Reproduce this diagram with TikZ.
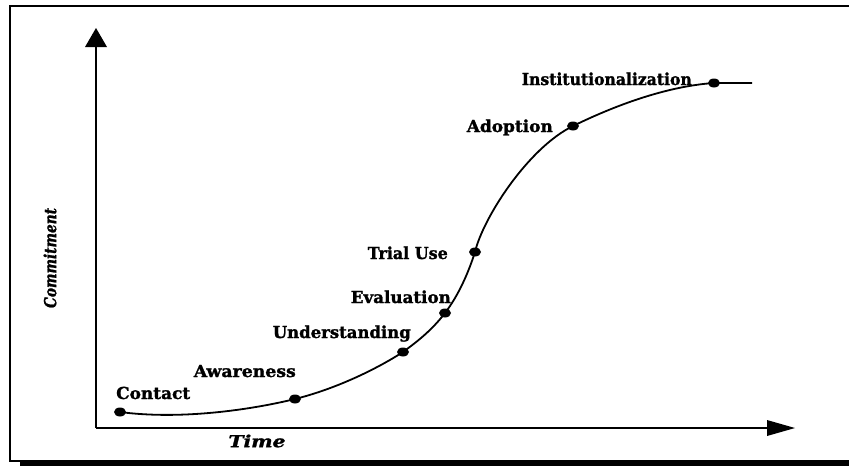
\documentclass[tikz,border=0pt]{standalone}
\usepackage{fontspec}
\setmainfont{DejaVu Serif}
\usepackage{graphicx}
\usetikzlibrary{shapes.geometric}
\newcommand\fitw[2]{\resizebox{#1}{\height}{#2}}
\begin{document}
\begin{tikzpicture}[x=1pt,y=-1pt,
  lbl/.style={inner sep=0pt, font=\fontsize{16.5}{16.5}\selectfont\bfseries\addfontfeature{FakeBold=1.5}},
  axlbl/.style={inner sep=0pt, font=\fontsize{16.5}{16.5}\selectfont\bfseries\itshape\addfontfeature{FakeBold=1.5}},
  dot/.style={ellipse, fill=black, inner sep=0pt, minimum width=12pt, minimum height=9pt},
  axisline/.style={line width=2pt},
  curveline/.style={line width=1.8pt},
  framel/.style={line width=1.5pt}]
\useasboundingbox (0,0) rectangle (849,466);
% frame
\draw[framel] (20,461) -- (10,461) -- (10,6) -- (849,6);
\fill (20,459.5) rectangle (849,466);
% axes
\coordinate (O) at (96,428);
\coordinate (ybase) at (96,47);
\coordinate (ytip) at (96,28);
\coordinate (xbase) at (767,428);
\coordinate (xtip) at (795,428);
\draw[axisline] (O) -- (ybase);
\draw[axisline] (O) -- (xbase);
\fill (ytip) -- ([xshift=-11pt]ybase) -- ([xshift=11pt]ybase) -- cycle;
\fill (xtip) -- ([yshift=-8pt]xbase) -- ([yshift=8pt]xbase) -- cycle;
% axis labels
\node[axlbl, rotate=90] (ylab) at (50,258) {\fitw{100pt}{Commitment}};
\node[axlbl] (xlab) at (257,441) {\fitw{57pt}{Time}};
% stage points
\coordinate (dC) at (120,412);
\coordinate (dA) at (295,399);
\coordinate (dU) at (403,352);
\coordinate (dE) at (445,313);
\coordinate (dT) at (475,252);
\coordinate (dD) at (573,126);
\coordinate (dI) at (714,83);
\coordinate (cend) at (752,83);
% curve
\draw[curveline] (dC) .. controls (180,420) and (250,410) .. (dA)
  .. controls (335,389) and (375,370) .. (dU)
  .. controls (418,341) and (432,330) .. (dE)
  .. controls (458,296) and (468,274) .. (dT)
  .. controls (483,218) and (528,148) .. (dD)
  .. controls (620,103) and (670,86) .. (dI)
  -- (cend);
% dots
\node[dot] (pC) at (dC) {};
\node[dot] (pA) at (dA) {};
\node[dot] (pU) at (dU) {};
\node[dot] (pE) at (dE) {};
\node[dot] (pT) at (dT) {};
\node[dot] (pD) at (dD) {};
\node[dot] (pI) at (dI) {};
% labels
\node[lbl, anchor=base west] (lC) at (116,399) {\fitw{74pt}{Contact}};
\node[lbl, anchor=base east] (lA) at (296,377) {\fitw{102pt}{Awareness}};
\node[lbl, anchor=base east] (lU) at (411,338) {\fitw{138pt}{Understanding}};
\node[lbl, anchor=base east] (lE) at (451,303) {\fitw{100pt}{Evaluation}};
\node[lbl, anchor=base east] (lT) at (448,259) {\fitw{80pt}{Trial Use}};
\node[lbl, anchor=base east] (lD) at (553,132) {\fitw{86pt}{Adoption}};
\node[lbl, anchor=base east] (lI) at (692,85) {\fitw{170pt}{Institutionalization}};
\end{tikzpicture}
\end{document}
